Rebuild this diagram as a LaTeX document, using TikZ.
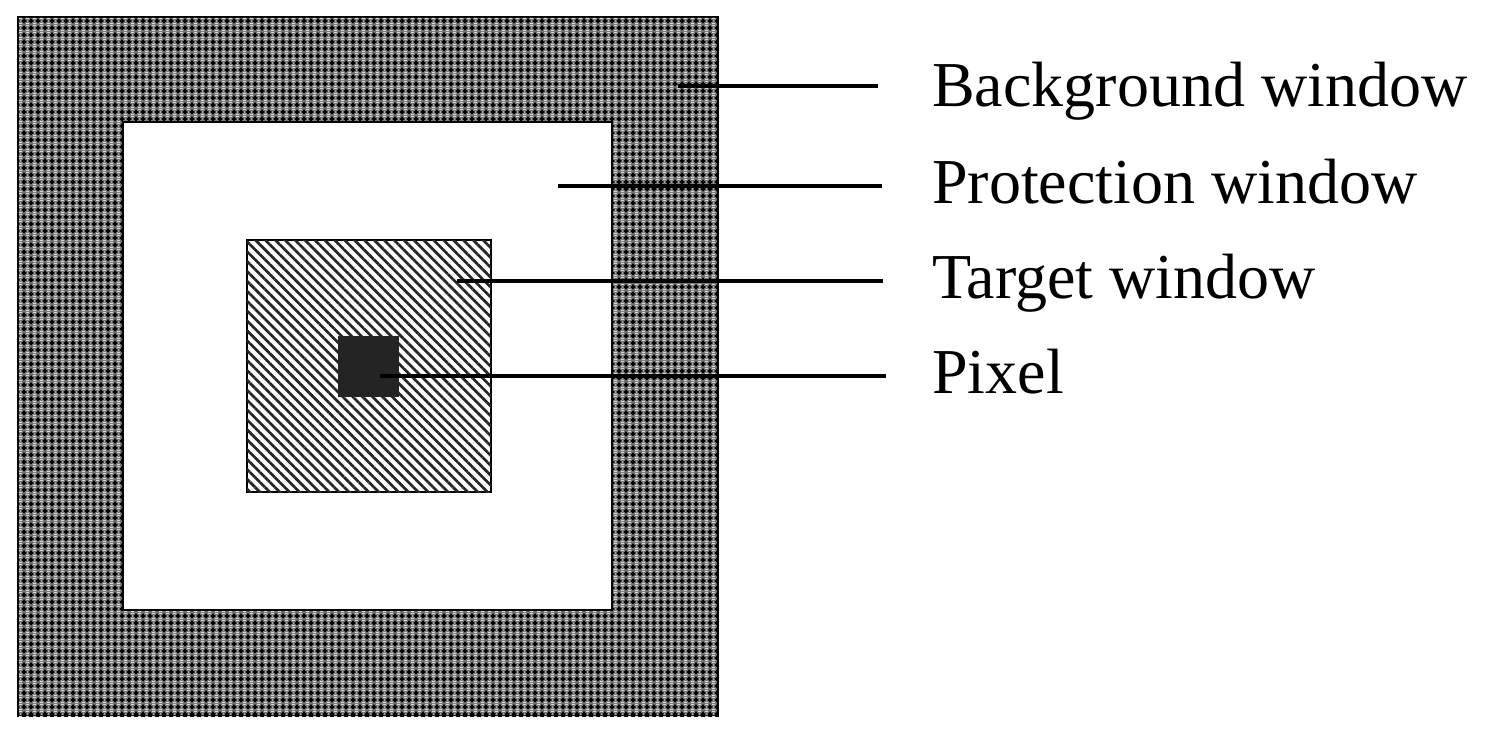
\documentclass[tikz,border=0pt]{standalone}
\usepackage{fontspec}
\setmainfont{Liberation Serif}
\usetikzlibrary{patterns,patterns.meta}
\tikzdeclarepattern{
  name=bgdots, type=colored,
  bottom left={(0pt,0pt)}, top right={(7pt,7pt)}, tile size={(7pt,7pt)},
  code={
    \fill[black] (2.5pt,1pt) rectangle (4.5pt,6pt);
    \fill[black] (1pt,2.5pt) rectangle (6pt,4.5pt);
    \fill[white!85!black] (0pt,0pt) rectangle (1.2pt,1.2pt);
    \fill[white!85!black] (5.8pt,0pt) rectangle (7pt,1.2pt);
    \fill[white!85!black] (0pt,5.8pt) rectangle (1.2pt,7pt);
    \fill[white!85!black] (5.8pt,5.8pt) rectangle (7pt,7pt);
  }
}
\tikzset{
  winbox/.style={draw=black, line width=1.6pt},
  bgwin/.style={winbox, fill=black!55, postaction={pattern=bgdots}},
  protwin/.style={winbox, fill=white},
  targwin/.style={winbox, fill=white, postaction={pattern={Lines[angle=-45,distance=7pt,line width=2.7pt]}, pattern color=black!85}},
  pixwin/.style={fill=black!86},
  leader/.style={line width=3.4pt, black},
  lab/.style={anchor=base west, inner sep=0pt, font=\fontsize{64}{72}\selectfont}
}
\begin{document}
\begin{tikzpicture}[x=1pt,y=-1pt]
\useasboundingbox (0,0) rectangle (1486,737);
\fill[white] (0,0) rectangle (1486,737);
% windows
\draw[bgwin] (18,17) rectangle (718,716);
\draw[protwin] (123,122) rectangle (612,610);
\draw[targwin] (247,240) rectangle (491,492);
\fill[pixwin] (338,336) rectangle (399,397);
% labels
\node[lab] (bg) at (932,106) {Background window};
\node[lab] (pr) at (932,203) {Protection window};
\node[lab] (tg) at (932,298) {Target window};
\node[lab] (px) at (932,393) {Pixel};
% leader ends
\coordinate (bgs) at (678,86);
\coordinate (bge) at (878,86);
\coordinate (prs) at (558,186);
\coordinate (pre) at (882,186);
\coordinate (tgs) at (457,281);
\coordinate (tge) at (883,281);
\coordinate (pxs) at (380,376);
\coordinate (pxe) at (886,376);
\draw[leader] (bgs) -- (bge);
\draw[leader] (prs) -- (pre);
\draw[leader] (tgs) -- (tge);
\draw[leader] (pxs) -- (pxe);
\end{tikzpicture}
\end{document}
